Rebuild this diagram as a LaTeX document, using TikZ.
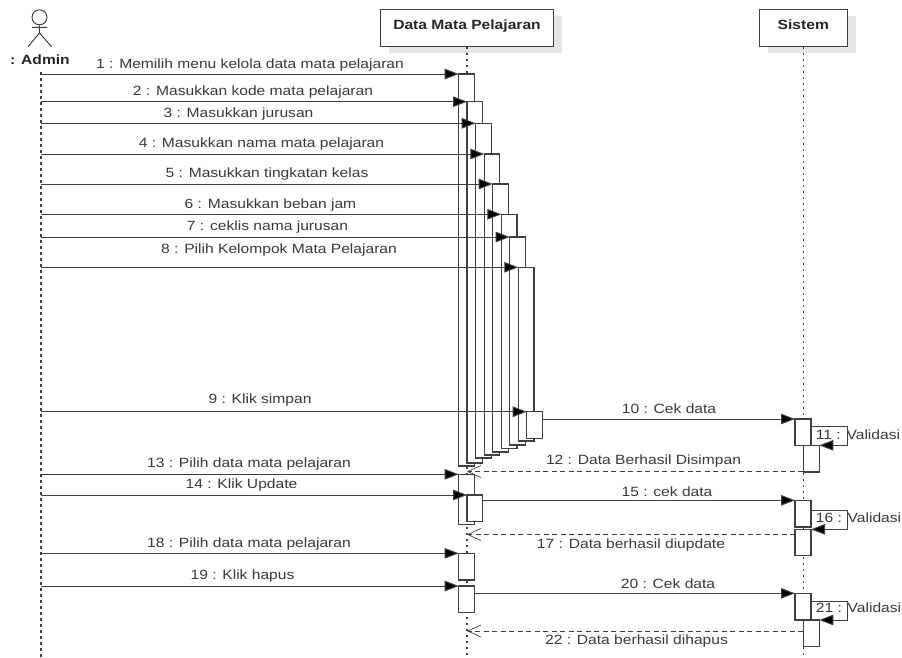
\documentclass[tikz,border=0pt]{standalone}
\usepackage{fontspec}
\setmainfont[FakeStretch=1.165]{Liberation Sans}
\usetikzlibrary{arrows.meta,shadows}
\definecolor{ink}{HTML}{3A3A3A}
\definecolor{edge}{HTML}{404040}
\newcommand{\actbox}[5]{% name, x1, y1, x2, y2
  \pgfmathsetmacro{\bw}{#4-#2}\pgfmathsetmacro{\bh}{#5-#3}
  \node[act,minimum width=\bw pt,minimum height=\bh pt] (#1) at (#2,#3) {};}
\tikzset{
  act/.style={draw=edge,fill=white,line width=1.2pt,anchor=north west,inner sep=0pt,outer sep=0pt},
  head/.style={draw=edge,fill=white,line width=1.2pt,anchor=north west,inner sep=0pt,outer sep=0pt,
    font=\bfseries\fontsize{13.4}{15}\selectfont,text=black!85,
    drop shadow={shadow xshift=8.5pt,shadow yshift=-6.5pt,fill=black!10,opacity=1}},
  lifeline/.style={draw=edge,line width=1.2pt,dash pattern=on 2.5pt off 3.5pt},
  msg/.style={draw=edge,line width=1pt,-{Triangle[length=14pt,width=10.5pt,fill=black]}},
  ret/.style={draw=edge,line width=1pt,dash pattern=on 5pt off 3.5pt,-{Straight Barb[length=13pt,width=12pt,line width=0.7pt]}},
  lbl/.style={text=ink,font=\fontsize{13.4}{15}\selectfont,inner sep=0pt},
  actorline/.style={draw=black!80,line width=0.9pt}
}
\begin{document}
\begin{tikzpicture}[x=1pt,y=-1pt]
\useasboundingbox (0,0) rectangle (902,657);
\fill[white] (0,0) rectangle (902,657);
% heads
\node[head,minimum width=172.6pt,minimum height=37.4pt] (data) at (380.7,9.3) {\raisebox{7.5pt}{Data Mata Pelajaran}};
\node[head,minimum width=88pt,minimum height=37.4pt] (sistem) at (759.3,9.3) {\raisebox{7.5pt}{Sistem}};
% actor
\node[draw=black!80,line width=0.9pt,circle,minimum size=15pt,inner sep=0pt] (adminhead) at (39.5,17.3) {};
\coordinate (hip) at (39.5,33);
\coordinate (armL) at (32,27.3);
\coordinate (armR) at (47,27.3);
\coordinate (legL) at (28,46.7);
\coordinate (legR) at (51.5,46.7);
\draw[actorline] (adminhead.south) -- (hip) (armL) -- (armR) (legL) -- (hip) -- (legR);
\node[font=\bfseries\fontsize{13.4}{15}\selectfont,text=black!85,inner sep=0pt] (admin) at (40,59.5) {: Admin};
% lifeline ends
\coordinate (adminTop) at (41,72);
\coordinate (adminEnd) at (41,657);
\coordinate (dataEnd) at (467,657);
\coordinate (sistemEnd) at (803.7,657);
\draw[lifeline] (adminTop) -- (adminEnd);
\draw[lifeline] (data.south -| dataEnd) -- (dataEnd);
\draw[lifeline] (sistem.south -| sistemEnd) -- (sistemEnd);
% activations, first block
\actbox{a1}{458.7}{74}{474.3}{466}
\actbox{a2}{467}{101.7}{482.7}{463}
\actbox{a3}{475.7}{123.3}{491.3}{458}
\actbox{a4}{484.3}{154}{499.7}{455}
\actbox{a5}{492.7}{184}{508.7}{452}
\actbox{a6}{501.3}{214.3}{517}{448.7}
\actbox{a7}{509.7}{237}{525.7}{445}
\actbox{a8}{518.3}{267.3}{534}{441}
\actbox{a9}{526.7}{411.7}{542.3}{438.3}
% second and later blocks
\actbox{b1}{458.7}{474.3}{474.3}{524.3}
\actbox{b2}{467}{495}{482.7}{521.7}
\actbox{c1}{458.7}{553.3}{474.3}{580}
\actbox{d1}{458.7}{586}{474.3}{612.3}
% sistem
\actbox{s1}{795}{419}{811}{445.3}
\actbox{s2}{803.3}{445.3}{819.3}{472}
\actbox{s3}{795}{500.3}{811}{527}
\actbox{s4}{795}{529.3}{811}{555.3}
\actbox{s5}{795}{593.3}{811}{620}
\actbox{s6}{803.3}{620}{819.3}{646.7}
% messages from admin
\foreach \b in {a1,a2,a3,a4,a5,a6,a7,a8,a9,b1,b2,c1,d1}
  \draw[msg] (adminTop |- \b.north west) -- (\b.north west);
% system calls
\draw[msg] (a9.east |- s1.north west) -- (s1.north west);
\draw[msg] (b2.east |- s3.north west) -- (s3.north west);
\draw[msg] (d1.east |- s5.north west) -- (s5.north west);
% self loops
\coordinate (l1) at (847.3,426.7);
\coordinate (l2) at (847.3,510);
\coordinate (l3) at (847.3,601);
\draw[msg] (s1.east |- l1) -- (l1) |- (s2.north east);
\draw[msg] (s3.east |- l2) -- (l2) |- (s4.north east);
\draw[msg] (s5.east |- l3) -- (l3) |- (s6.north east);
% returns
\coordinate (r12) at (467,471.5);
\coordinate (r17) at (467,534.5);
\coordinate (r22) at (467,631);
\draw[ret] (s2.west |- r12) -- (r12);
\draw[ret] (s4.west |- r17) -- (r17);
\draw[ret] (s6.west |- r22) -- (r22);
% labels
\node[lbl] (t1) at (250,65) {1 : Memilih menu kelola data mata pelajaran};
\node[lbl] (t2) at (253,92) {2 : Masukkan kode mata pelajaran};
\node[lbl] (t3) at (238.5,114) {3 : Masukkan jurusan};
\node[lbl] (t4) at (261.5,144) {4 : Masukkan nama mata pelajaran};
\node[lbl] (t5) at (267,174) {5 : Masukkan tingkatan kelas};
\node[lbl] (t6) at (270.5,205) {6 : Masukkan beban jam};
\node[lbl] (t7) at (267.5,227) {7 : ceklis nama jurusan};
\node[lbl] (t8) at (279,250) {8 : Pilih Kelompok Mata Pelajaran};
\node[lbl] (t9) at (260,400) {9 : Klik simpan};
\node[lbl] (t10) at (669,409) {10 : Cek data};
\node[lbl] (t11) at (858,435) {11 : Validasi};
\node[lbl] (t12) at (643.5,461) {12 : Data Berhasil Disimpan};
\node[lbl] (t13) at (249,464) {13 : Pilih data mata pelajaran};
\node[lbl] (t14) at (241.5,485) {14 : Klik Update};
\node[lbl] (t15) at (667,492) {15 : cek data};
\node[lbl] (t16) at (858.5,518) {16 : Validasi};
\node[lbl] (t17) at (631,545) {17 : Data berhasil diupdate};
\node[lbl] (t18) at (249,544) {18 : Pilih data mata pelajaran};
\node[lbl] (t19) at (242.5,576) {19 : Klik hapus};
\node[lbl] (t20) at (668,584) {20 : Cek data};
\node[lbl] (t21) at (858.5,608) {21 : Validasi};
\node[lbl] (t22) at (636.5,641) {22 : Data berhasil dihapus};
\end{tikzpicture}
\end{document}
